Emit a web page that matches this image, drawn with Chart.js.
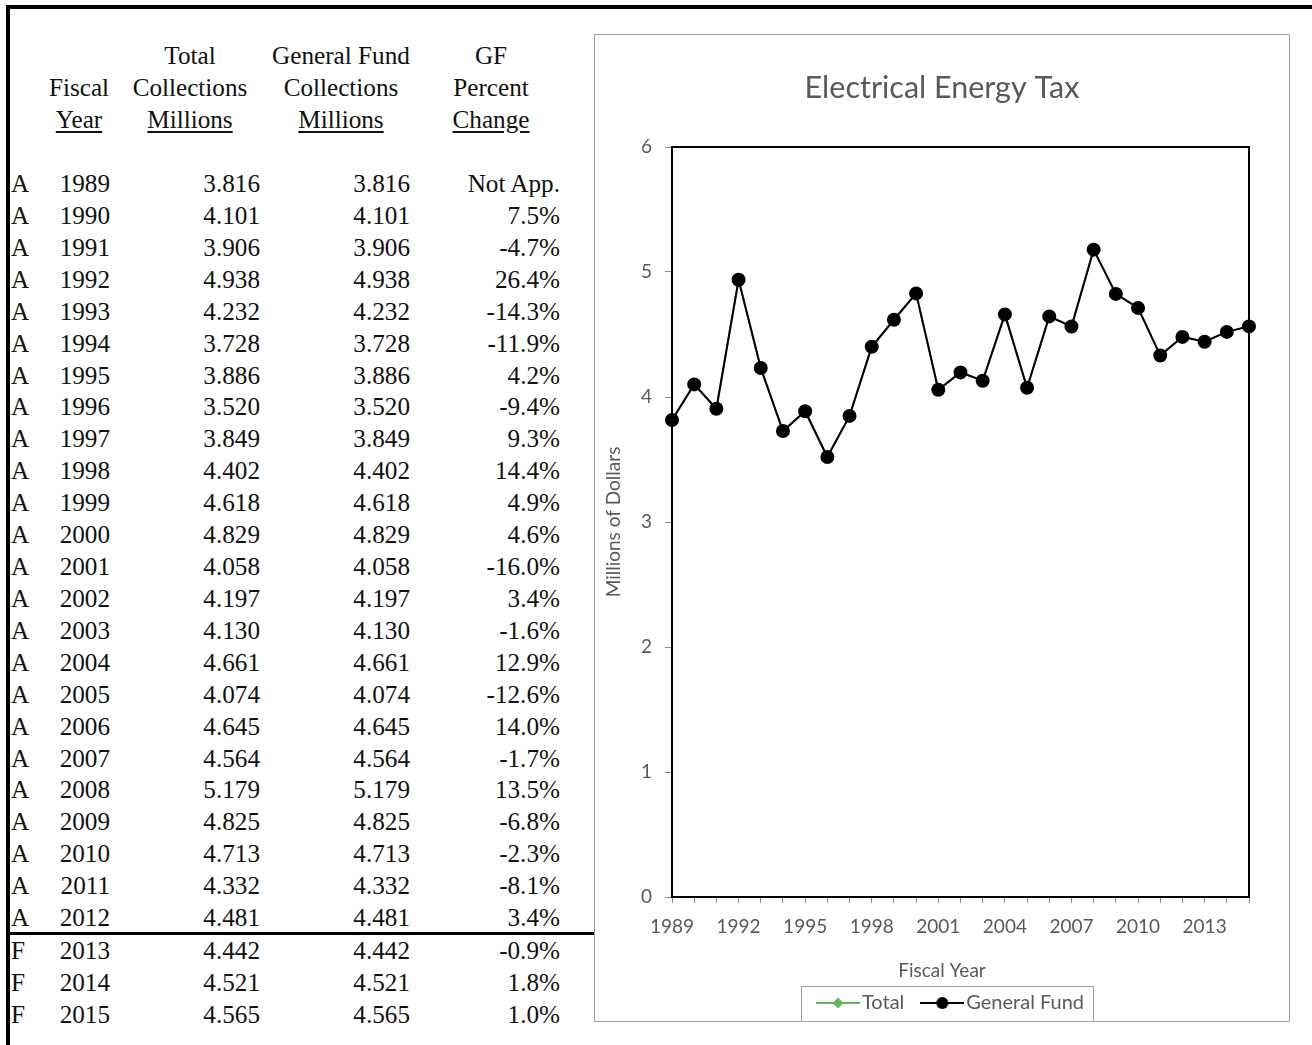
<!DOCTYPE html>
<html>
<head>
<meta charset="utf-8">
<title>Electrical Energy Tax</title>
<script src="https://cdn.jsdelivr.net/npm/chart.js@4/dist/chart.umd.min.js"></script>
<style>
  html, body { margin: 0; padding: 0; background: #fff; }
  body { width: 1312px; height: 1045px; position: relative; overflow: hidden; }
  .frame-top { position: absolute; left: 6px; top: 5px; width: 1306px; height: 4px; background: #000; }
  .frame-left { position: absolute; left: 6px; top: 5px; width: 4px; height: 1040px; background: #000; }
  .cell {
    position: absolute; font-family: "Liberation Serif", "Times New Roman", serif;
    font-size: 25.2px; line-height: 32px; height: 32px; color: #111; white-space: nowrap;
  }
  .right { text-align: right; }
  .center { text-align: center; }
  .u { text-decoration: underline; text-underline-offset: 3px; }
  .sep { position: absolute; left: 8px; top: 932px; width: 586px; height: 3px; background: #000; }
  #chartBox {
    position: absolute; left: 594px; top: 34px; width: 696px; height: 988px;
    box-sizing: border-box; border: 1px solid #a0a0a0; background: #fff;
  }
  #chartBox canvas { display: block; }
</style>
</head>
<body>
<div class="frame-top"></div>
<div class="frame-left"></div>
<div id="table"></div>
<div class="sep"></div>
<div id="chartBox"><canvas id="chart" width="694" height="986"></canvas></div>

<script>
// Fiscal years, actual (A) / forecast (F) status and collections in millions of dollars
const fiscalYears = [1989, 1990, 1991, 1992, 1993, 1994, 1995, 1996, 1997, 1998, 1999, 2000, 2001,
  2002, 2003, 2004, 2005, 2006, 2007, 2008, 2009, 2010, 2011, 2012, 2013, 2014, 2015];
const status = ['A','A','A','A','A','A','A','A','A','A','A','A','A','A','A','A','A','A','A','A',
  'A','A','A','A','F','F','F'];
const totalCollections = [3.816, 4.101, 3.906, 4.938, 4.232, 3.728, 3.886, 3.520, 3.849, 4.402,
  4.618, 4.829, 4.058, 4.197, 4.130, 4.661, 4.074, 4.645, 4.564, 5.179, 4.825, 4.713, 4.332,
  4.481, 4.442, 4.521, 4.565];
const generalFund = [3.816, 4.101, 3.906, 4.938, 4.232, 3.728, 3.886, 3.520, 3.849, 4.402,
  4.618, 4.829, 4.058, 4.197, 4.130, 4.661, 4.074, 4.645, 4.564, 5.179, 4.825, 4.713, 4.332,
  4.481, 4.442, 4.521, 4.565];
const gfPercentChange = [null, 7.5, -4.7, 26.4, -14.3, -11.9, 4.2, -9.4, 9.3, 14.4, 4.9, 4.6,
  -16.0, 3.4, -1.6, 12.9, -12.6, 14.0, -1.7, 13.5, -6.8, -2.3, -8.1, 3.4, -0.9, 1.8, 1.0];
const yearLabels = fiscalYears.map(String);

// ---------- table ----------
const table = document.getElementById('table');
function addCell(text, opts) {
  const d = document.createElement('div');
  d.className = 'cell ' + (opts.cls || '');
  d.style.top = (opts.cy - 16) + 'px';
  if (opts.align === 'right') {
    d.classList.add('right');
    d.style.left = (opts.x - 150) + 'px';
    d.style.width = '150px';
  } else if (opts.align === 'center') {
    d.classList.add('center');
    d.style.left = (opts.x - 100) + 'px';
    d.style.width = '200px';
  } else {
    d.style.left = opts.x + 'px';
  }
  const span = document.createElement('span');
  span.textContent = text;
  if (opts.u) span.className = 'u';
  d.appendChild(span);
  table.appendChild(d);
}

const headerRows = [56, 88, 120];
const headers = [
  { x: 79,  lines: ['', 'Fiscal', 'Year'] },
  { x: 190, lines: ['Total', 'Collections', 'Millions'] },
  { x: 341, lines: ['General Fund', 'Collections', 'Millions'] },
  { x: 491, lines: ['GF', 'Percent', 'Change'] }
];
headers.forEach(h => h.lines.forEach((t, i) => {
  if (t) addCell(t, { x: h.x, cy: headerRows[i], align: 'center', u: i === 2 });
}));

fiscalYears.forEach((yr, i) => {
  const cy = 184 + i * 31.92 + (i >= 24 ? 1 : 0);
  addCell(status[i], { x: 11, cy });
  addCell(String(yr), { x: 110, cy, align: 'right' });
  addCell(totalCollections[i].toFixed(3), { x: 260, cy, align: 'right' });
  addCell(generalFund[i].toFixed(3), { x: 410, cy, align: 'right' });
  const pc = gfPercentChange[i];
  addCell(pc === null ? 'Not App.' : pc.toFixed(1) + '%', { x: 560, cy, align: 'right' });
});

// ---------- chart ----------
const TEXT = '#595959';
const FONT = 'Lato, "Open Sans", sans-serif';
const totalColor = '#5cb85c';
const gfColor = '#000000';
const SWATCH_BOX = 28;   // legend box width reserved per item
const SWATCH_W = 44;     // drawn swatch width (line overhangs the box on both sides)
const LEGEND_PAD = 24;
const LEGEND_FONT = 20;

// legend swatch: short line with the series marker in the middle
function swatch(color, marker) {
  const c = document.createElement('canvas');
  c.width = SWATCH_W; c.height = 16;
  const g = c.getContext('2d');
  const mid = SWATCH_W / 2;
  g.strokeStyle = color; g.lineWidth = 2;
  g.beginPath(); g.moveTo(0, 8); g.lineTo(SWATCH_W, 8); g.stroke();
  g.fillStyle = color;
  g.beginPath();
  if (marker === 'diamond') {
    g.moveTo(mid, 2.5); g.lineTo(mid + 5.5, 8); g.lineTo(mid, 13.5); g.lineTo(mid - 5.5, 8); g.closePath();
  } else {
    g.arc(mid, 8, 6, 0, Math.PI * 2);
  }
  g.fill();
  return c;
}
const swatches = [swatch(totalColor, 'diamond'), swatch(gfColor, 'circle')];

const plotFrame = {
  id: 'plotFrame',
  // the legend row's trailing padding pulls it left of centre; push it back
  afterLayout(chart) {
    const lg = chart.legend;
    if (!lg) return;
    lg.left += LEGEND_PAD / 2;
    lg.right += LEGEND_PAD / 2;
  },
  afterDatasetsDraw(chart) {
    const { ctx, chartArea: a } = chart;
    ctx.save();
    ctx.strokeStyle = '#000';
    ctx.lineWidth = 2;
    ctx.beginPath();
    ctx.moveTo(a.left, a.top);
    ctx.lineTo(a.right, a.top);
    ctx.lineTo(a.right, a.bottom);
    ctx.stroke();
    ctx.restore();
  },
  // frame around the legend row
  afterDraw(chart) {
    const lg = chart.legend;
    if (!lg || !lg.lineWidths || !lg.lineWidths.length) return;
    const rowW = lg.lineWidths[0];
    const startX = (lg.left + LEGEND_PAD + lg.right - rowW) / 2;
    const cy = lg.top + LEGEND_PAD + LEGEND_FONT / 2;
    const left = startX + SWATCH_BOX / 2 - SWATCH_W / 2 - 15;
    const right = startX + rowW - LEGEND_PAD + 9;
    const ctx = chart.ctx;
    ctx.save();
    ctx.strokeStyle = '#a0a0a0';
    ctx.lineWidth = 1;
    ctx.strokeRect(Math.round(left) + 0.5, Math.round(cy - 17) + 0.5, Math.round(right - left), 35);
    ctx.restore();
  }
};

new Chart(document.getElementById('chart'), {
  type: 'line',
  data: {
    labels: yearLabels,
    datasets: [
      {
        label: 'Total',
        data: totalCollections,
        borderColor: totalColor,
        backgroundColor: totalColor,
        borderWidth: 2,
        pointStyle: 'rectRot',
        pointRadius: 5,
        pointHoverRadius: 5,
        tension: 0,
        order: 2
      },
      {
        label: 'General Fund',
        data: generalFund,
        borderColor: gfColor,
        backgroundColor: gfColor,
        borderWidth: 2,
        pointStyle: 'circle',
        pointRadius: 6,
        pointHoverRadius: 6,
        tension: 0,
        order: 1
      }
    ]
  },
  options: {
    responsive: false,
    animation: false,
    events: [],
    layout: { padding: { left: 0, right: 0, top: 0, bottom: -2 } },
    plugins: {
      title: {
        display: true,
        text: 'Electrical Energy Tax',
        color: TEXT,
        font: { family: FONT, size: 30.5, weight: 'normal' },
        padding: { top: 35, bottom: 40.4 }
      },
      // x-axis caption, centred under the whole chart between the axis and the legend
      subtitle: {
        display: true,
        position: 'bottom',
        weight: 500,
        text: 'Fiscal Year',
        color: TEXT,
        font: { family: FONT, size: 19, weight: 'normal' },
        padding: { top: 12.6, bottom: -13.4 }
      },
      legend: {
        display: true,
        position: 'bottom',
        labels: {
          usePointStyle: true,
          pointStyleWidth: SWATCH_BOX,
          padding: LEGEND_PAD,
          color: TEXT,
          font: { family: FONT, size: LEGEND_FONT },
          generateLabels(chart) {
            return chart.data.datasets.map((ds, i) => ({
              text: ds.label,
              pointStyle: swatches[i],
              fillStyle: ds.borderColor,
              strokeStyle: ds.borderColor,
              lineWidth: 0,
              fontColor: TEXT,
              hidden: false,
              datasetIndex: i
            }));
          }
        }
      },
      tooltip: { enabled: false }
    },
    scales: {
      x: {
        type: 'category',
        offset: false,
        afterFit(scale) { scale.height = 50; },
        border: { display: true, color: '#000', width: 2 },
        grid: { display: true, drawOnChartArea: false, drawTicks: true, tickLength: 6, color: '#8c8c8c', tickColor: '#8c8c8c' },
        ticks: {
          autoSkip: false,
          maxRotation: 0,
          padding: 12,
          color: TEXT,
          font: { family: FONT, size: 19 },
          callback(value, index) { return index % 3 === 0 ? yearLabels[index] : ''; }
        },
        title: { display: false }
      },
      y: {
        min: 0,
        max: 6,
        afterFit(scale) { scale.width = 77; },
        border: { display: true, color: '#000', width: 2 },
        grid: { display: true, drawOnChartArea: false, drawTicks: true, tickLength: 7, color: '#8c8c8c', tickColor: '#8c8c8c' },
        ticks: {
          stepSize: 1,
          padding: 13,
          color: TEXT,
          font: { family: FONT, size: 19 }
        },
        title: {
          display: true,
          text: 'Millions of Dollars',
          color: TEXT,
          font: { family: FONT, size: 19 },
          padding: { top: 7, bottom: 0 }
        }
      },
      // empty right-hand margin axis so the plot ends short of the chart's right edge
      yRight: {
        position: 'right',
        min: 0,
        max: 6,
        afterFit(scale) { scale.width = 40; },
        border: { display: false },
        grid: { display: false },
        ticks: { display: false },
        title: { display: false }
      }
    }
  },
  plugins: [plotFrame]
});
</script>
</body>
</html>
